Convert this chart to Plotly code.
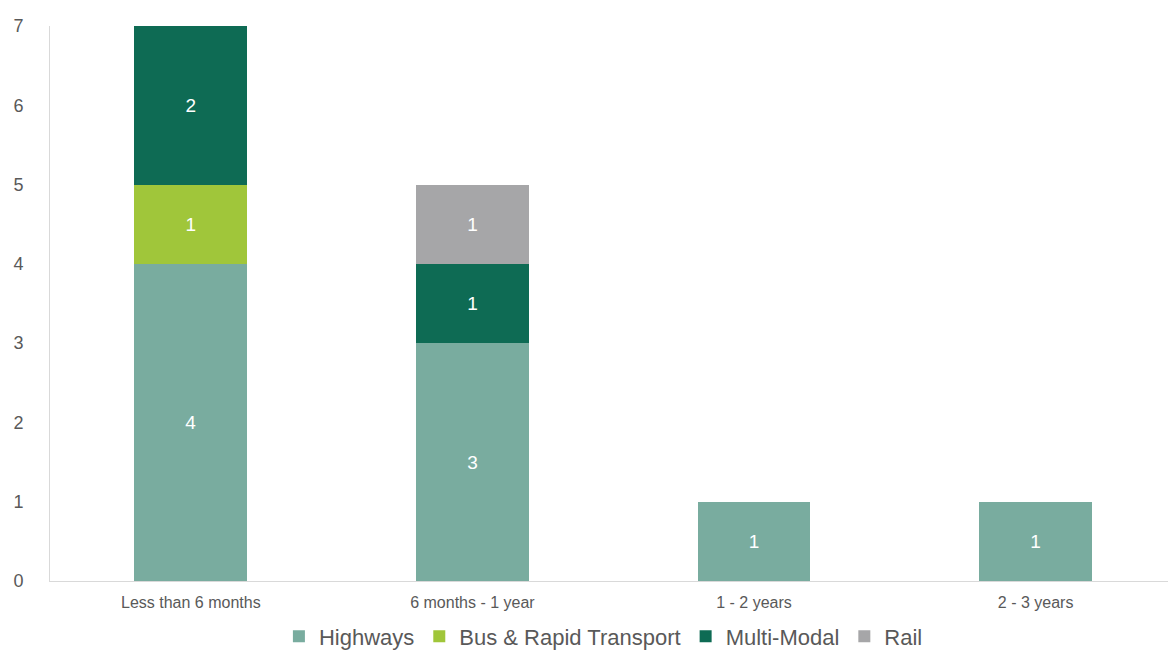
import plotly.graph_objects as go

categories = ["Less than 6 months", "6 months - 1 year", "1 - 2 years", "2 - 3 years"]
highways = [4, 3, 1, 1]
bus_rapid = [1, None, None, None]
multi_modal = [2, 1, None, None]
rail = [None, 1, None, None]

series = [
    ("Highways", highways, "#79ac9f"),
    ("Bus & Rapid Transport", bus_rapid, "#a0c63a"),
    ("Multi-Modal", multi_modal, "#0e6b54"),
    ("Rail", rail, "#a6a6a8"),
]

fig = go.Figure()
for name, vals, color in series:
    fig.add_trace(go.Bar(
        x=categories, y=vals, name=name, marker=dict(color=color, line=dict(width=0)),
        width=0.4, text=[str(v) if v else "" for v in vals], textposition="inside",
        insidetextanchor="middle", textfont=dict(color="white", size=19, family="Liberation Sans, Arial"),
    ))

fig.update_layout(
    barmode="stack",
    width=1168, height=653,
    margin=dict(l=50, r=0, t=26, b=72, autoexpand=False),
    plot_bgcolor="white", paper_bgcolor="white",
    font=dict(family="Liberation Sans, Arial", color="#595959"),
    showlegend=True,
    legend=dict(orientation="h", x=0.495, xanchor="center", y=-0.1, yanchor="middle",
                font=dict(size=22, color="#595959"), traceorder="normal", itemwidth=30),
    uniformtext=dict(mode="show", minsize=10),
)
fig.update_xaxes(range=[-0.5, 3.47], showline=True, linecolor="#d9d9d9", linewidth=1,
                 tickfont=dict(size=16, color="#595959"), ticks="", showgrid=False,
                 ticklabelstandoff=7)
fig.update_yaxes(range=[0, 7], dtick=1, showline=True, linecolor="#d9d9d9", linewidth=1,
                 showgrid=False, zeroline=False, tickfont=dict(size=18, color="#595959"),
                 ticks="", ticklabelstandoff=22)

fig.write_html("out.html")
